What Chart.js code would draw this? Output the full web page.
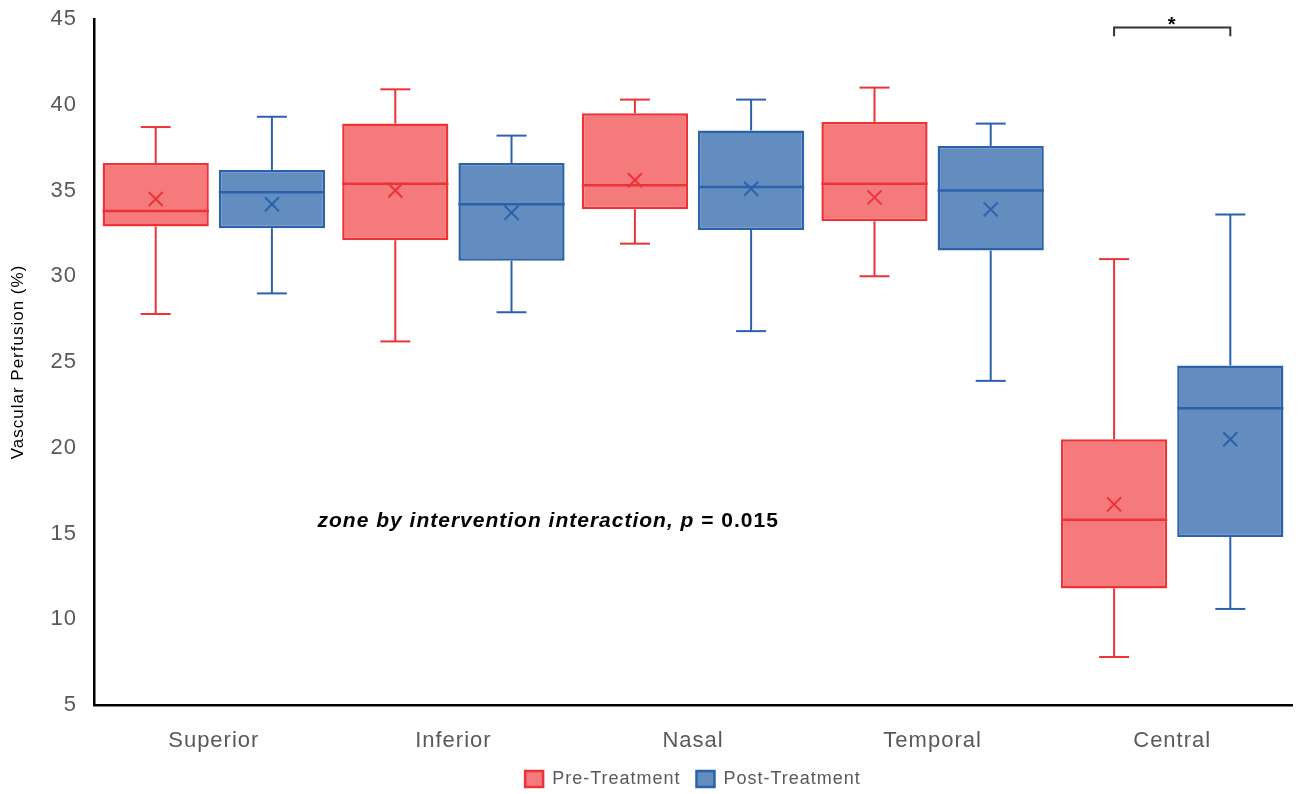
<!DOCTYPE html>
<html lang="en">
<head>
<meta charset="UTF-8">
<title>Vascular Perfusion</title>
<script src="https://cdn.jsdelivr.net/npm/chart.js"></script>
<style>
    html, body { margin: 0; padding: 0; background: #fff; }
</style>
</head>
<body>
<canvas id="chartBox" width="1298" height="794"></canvas>

<script>
    // Zones and box plot statistics
    const zones = ['Superior', 'Inferior', 'Nasal', 'Temporal', 'Central']
    const yTicks = [5, 10, 15, 20, 25, 30, 35, 40, 45]

    const preMin    = [27.8, 26.2, 31.9, 30.0, 7.8]
    const preQ1     = [32.9, 32.1, 33.9, 33.2, 11.8]
    const preMedian = [33.8, 35.4, 35.3, 35.4, 15.8]
    const preQ3     = [36.6, 38.9, 39.5, 39.0, 20.5]
    const preMax    = [38.7, 40.9, 40.3, 41.0, 31.0]
    const preMean   = [34.5, 35.0, 35.6, 34.6, 16.7]

    const postMin    = [29.0, 27.9, 26.8, 23.9, 10.6]
    const postQ1     = [32.8, 30.9, 32.7, 31.5, 14.8]
    const postMedian = [34.9, 34.2, 35.2, 35.0, 22.3]
    const postQ3     = [36.2, 36.6, 38.5, 37.6, 24.8]
    const postMax    = [39.3, 38.2, 40.3, 38.9, 33.6]
    const postMean   = [34.2, 33.7, 35.1, 33.9, 20.5]

    const groups = [
        { min: preMin, q1: preQ1, med: preMedian, q3: preQ3, max: preMax, mean: preMean },
        { min: postMin, q1: postQ1, med: postMedian, q3: postQ3, max: postMax, mean: postMean }
    ]

    // significance bracket over Central, and the interaction note
    const bracketZone = 4
    const bracketValue = 44.5
    const bracketDrop = 0.5
    const noteText = ['zone by intervention interaction, ', 'p', ' = 0.015']
    const notePos = { index: 0.433, value: 15.37 }

    function line(ctx, x1, y1, x2, y2) {
        ctx.beginPath()
        ctx.moveTo(x1, y1)
        ctx.lineTo(x2, y2)
        ctx.stroke()
    }

    // whiskers, medians, means and annotations drawn on top of the floating bars
    const boxPlugin = {
        id: 'boxPlugin',
        beforeUpdate(chart) { chart.ctx.letterSpacing = '1px' },
        beforeDraw(chart) { chart.ctx.letterSpacing = '1px' },
        afterDatasetsDraw(chart) {
            const ctx = chart.ctx
            const y = chart.scales.y
            const x = chart.scales.x

            chart.data.datasets.forEach(function (ds, i) {
                const meta = chart.getDatasetMeta(i)
                const s = groups[i]
                meta.data.forEach(function (bar, j) {
                    const cx = bar.x
                    const half = bar.width / 2
                    const cap = 15
                    ctx.save()
                    ctx.strokeStyle = ds.borderColor
                    ctx.lineWidth = 2
                    // upper whisker
                    line(ctx, cx, y.getPixelForValue(s.q3[j]), cx, y.getPixelForValue(s.max[j]))
                    line(ctx, cx - cap, y.getPixelForValue(s.max[j]), cx + cap, y.getPixelForValue(s.max[j]))
                    // lower whisker
                    line(ctx, cx, y.getPixelForValue(s.q1[j]), cx, y.getPixelForValue(s.min[j]))
                    line(ctx, cx - cap, y.getPixelForValue(s.min[j]), cx + cap, y.getPixelForValue(s.min[j]))
                    // median
                    ctx.lineWidth = 2.5
                    line(ctx, cx - half, y.getPixelForValue(s.med[j]), cx + half, y.getPixelForValue(s.med[j]))
                    // mean marker
                    const my = y.getPixelForValue(s.mean[j])
                    ctx.lineWidth = 2
                    line(ctx, cx - 7, my - 7, cx + 7, my + 7)
                    line(ctx, cx - 7, my + 7, cx + 7, my - 7)
                    ctx.restore()
                })
            })

            // bracket
            const xa = chart.getDatasetMeta(0).data[bracketZone].x
            const xb = chart.getDatasetMeta(1).data[bracketZone].x
            const yb = y.getPixelForValue(bracketValue)
            const yd = y.getPixelForValue(bracketValue - bracketDrop)
            ctx.save()
            ctx.strokeStyle = '#333'
            ctx.lineWidth = 2
            ctx.beginPath()
            ctx.moveTo(xa, yd)
            ctx.lineTo(xa, yb)
            ctx.lineTo(xb, yb)
            ctx.lineTo(xb, yd)
            ctx.stroke()
            ctx.fillStyle = '#000'
            ctx.font = 'bold 20px "Liberation Sans"'
            ctx.textAlign = 'center'
            ctx.textBaseline = 'alphabetic'
            ctx.fillText('*', (xa + xb) / 2, yb + 3)

            // interaction note
            let tx = x.getPixelForValue(notePos.index)
            const ty = y.getPixelForValue(notePos.value)
            const fonts = ['italic bold 21px "Liberation Sans"', 'italic bold 21px "Liberation Sans"', 'bold 21px "Liberation Sans"']
            ctx.textAlign = 'left'
            noteText.forEach(function (t, k) {
                ctx.font = fonts[k]
                ctx.fillText(t, tx, ty)
                tx += ctx.measureText(t).width
            })
            ctx.restore()
        }
    }

    const boxData = {
        labels: zones,
        datasets: [{
            label: 'Pre-Treatment',
            data: zones.map(function (z, i) { return [preQ1[i], preQ3[i]] }),
            backgroundColor: '#F47A7B',
            borderColor: '#ED3238',
            borderWidth: 2.5,
            borderSkipped: false
        }, {
            label: 'Post-Treatment',
            data: zones.map(function (z, i) { return [postQ1[i], postQ3[i]] }),
            backgroundColor: '#638CBF',
            borderColor: '#2B62AC',
            borderWidth: 2.5,
            borderSkipped: false
        }]
    }

    const boxConfig = {
        type: 'bar',
        data: boxData,
        options: {
            responsive: false,
            animation: false,
            categoryPercentage: 0.97,
            barPercentage: 0.914,
            layout: {
                autoPadding: false,
                padding: { left: 0, right: 6, top: 19, bottom: -4 }
            },
            plugins: {
                tooltip: { enabled: false },
                legend: {
                    position: 'bottom',
                    fullSize: false,
                    labels: {
                        boxWidth: 18,
                        boxHeight: 16,
                        padding: 16,
                        color: '#595959',
                        font: { family: 'Liberation Sans', size: 18 }
                    }
                }
            },
            scales: {
                x: {
                    grid: { display: false, drawTicks: false },
                    border: { display: true, color: '#000', width: 2.5 },
                    ticks: {
                        color: '#595959',
                        padding: 23,
                        font: { family: 'Liberation Sans', size: 22 }
                    },
                    afterFit: function (s) { s.height = 49 }
                },
                y: {
                    min: 5,
                    max: 45,
                    grid: { display: false, drawTicks: false },
                    border: { display: true, color: '#000', width: 2.5 },
                    afterBuildTicks: function (s) {
                        s.ticks = yTicks.map(function (v) { return { value: v } })
                    },
                    ticks: {
                        color: '#595959',
                        padding: 17,
                        font: { family: 'Liberation Sans', size: 22 }
                    },
                    title: {
                        display: true,
                        text: 'Vascular Perfusion (%)',
                        color: '#000',
                        padding: { top: 8, bottom: 0 },
                        font: { family: 'Liberation Sans', size: 17 }
                    },
                    afterFit: function (s) {
                        s.width = 94
                        s.paddingTop = 0
                        s.paddingBottom = 0
                    }
                }
            }
        },
        plugins: [boxPlugin]
    }

    const chartBox = new Chart(document.getElementById('chartBox'), boxConfig)
</script>
</body>
</html>
